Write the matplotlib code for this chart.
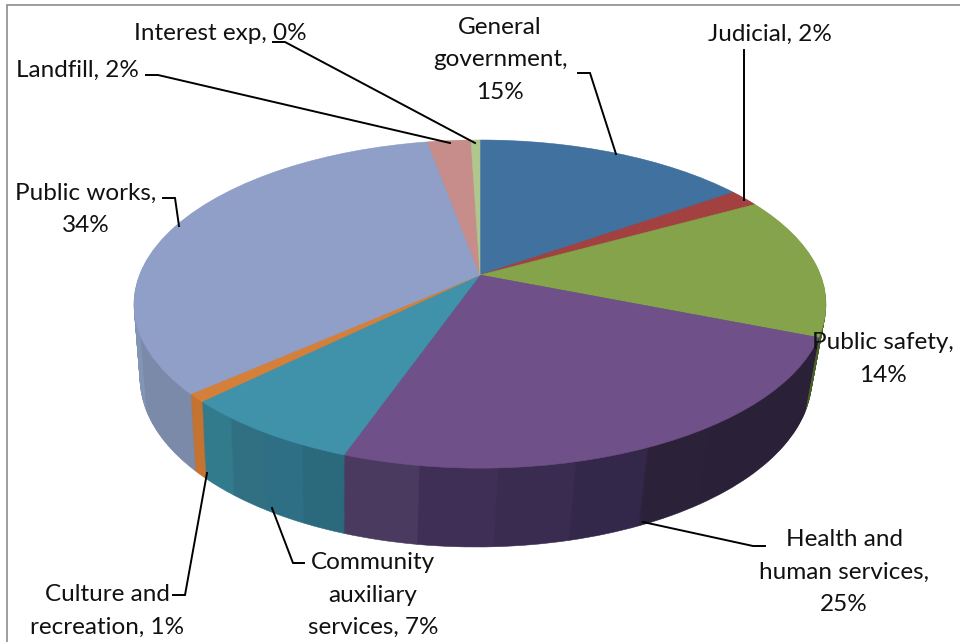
import matplotlib
matplotlib.use("Agg")
import matplotlib.pyplot as plt
import numpy as np
from matplotlib.path import Path
from matplotlib.transforms import Transform

# parts, in drawing order (clockwise from the top)
names = ["General government", "Judicial", "Public safety", "Health and human services",
         "Community auxiliary services", "Culture and recreation", "Public works",
         "Landfill", "Interest exp"]
shares = [15.3, 1.7, 14.0, 24.4, 7.3, 0.8, 33.6, 2.4, 0.5]
top_colors = ["#41719F", "#A34141", "#84A34A", "#6F5088", "#3F92A9",
              "#D5803A", "#8F9FC8", "#C78D8A", "#AFC78E"]
side_bands = [
    ["#2F5478"],
    ["#7A2E2E"],
    ["#3E4F22", "#4A5F2A"],
    ["#2A2138", "#2A2138", "#2A2138", "#2B2239", "#33274A", "#3A2C50", "#3F2E55", "#4B3A5F"],
    ["#2B6A7C", "#2F6F85", "#307082", "#317B8C"],
    ["#C47330"],
    ["#7C8AAA", "#8494B5", "#8B9BC0", "#8B9BC0", "#8B9BC0", "#8B9BC0"],
    ["#946865"],
    ["#82956A"],
]
labels = [
    ("General\ngovernment,\n15%", 500, 60, "center"),
    ("Judicial, 2%", 770, 34, "center"),
    ("Public safety,\n14%", 883, 359, "center"),
    ("Health and\nhuman services,\n25%", 844, 572, "center"),
    ("Community\nauxiliary\nservices, 7%", 373, 595, "center"),
    ("Culture and\nrecreation, 1%", 107, 611, "center"),
    ("Public works,\n34%", 86, 209, "center"),
    ("Landfill, 2%", 77, 70, "center"),
    ("Interest exp, 0%", 220, 34, "center"),
]
leaders = [
    ([578, 590, 616], [73, 73, 154]),
    ([743.5, 743.5], [50, 200]),
    ([643, 753, 765], [522, 546, 546]),
    ([272, 293, 304], [508, 563, 563]),
    ([207, 185, 173], [473, 595, 595]),
    ([163, 175, 179], [198, 198, 226]),
    ([146, 158, 450], [75, 75, 143]),
    ([273, 285, 475], [42, 42, 143]),
]


class TiltedPie(Transform):
    # perspective view of the unit circle, u=0 top face, u=1 bottom face
    input_dims = 2
    output_dims = 2

    def __init__(self, u=0.0):
        super().__init__()
        self.u = u

    def transform_non_affine(self, xy):
        xy = np.asarray(xy, dtype=float)
        w = 1 + 0.177 * xy[:, 1]
        px = 340.5 * xy[:, 0] / w
        py = 275 - 158.9 * xy[:, 1] / w
        # bottom face sits lower and a little narrower
        px = 480 - 4 * self.u + px * (1 - 0.029 * self.u)
        py = 304 + 74 * self.u + (py - 304) * (1 + 0.03 * self.u)
        return np.column_stack([px, py])

    def transform_path_non_affine(self, path):
        return Path(self.transform_non_affine(path.vertices), path.codes)


fig = plt.figure(figsize=(9.6, 6.42), dpi=100)
ax = fig.add_axes([0, 0, 1, 1])

# the wall of the pie, stacked from the bottom face upward
side_shares = []
side_colors = []
for share, bands in zip(shares, side_bands):
    side_shares += [share / len(bands)] * len(bands)
    side_colors += bands
for u in np.linspace(1, 0.01, 76):
    wedges, _ = ax.pie(side_shares, colors=side_colors, startangle=90, counterclock=False,
                       normalize=True)
    for w in wedges:
        w.set_transform(TiltedPie(u) + ax.transData)
        w.set_edgecolor(w.get_facecolor())
        w.set_linewidth(0.4)

wedges, _ = ax.pie(shares, colors=top_colors, startangle=90, counterclock=False, normalize=True)
for w in wedges:
    w.set_transform(TiltedPie(0) + ax.transData)
    w.set_edgecolor(w.get_facecolor())
    w.set_linewidth(0.4)

ax.set_aspect("auto")
ax.set_xlim(0, 960)
ax.set_ylim(642, 0)
ax.axis("off")

# frame of the chart area (only top and left fall inside the picture)
ax.plot([7, 7, 960], [642, 5, 5], color="#8C8C8C", lw=1.2, solid_joinstyle="miter", clip_on=False)

for xs, ys in leaders:
    ax.plot(xs, ys, color="black", lw=1.4, solid_joinstyle="miter")

for text, x, y, ha in labels:
    ax.text(x, y, text, ha=ha, va="center", family="Lato", fontsize=17.5, color="#111111",
            linespacing=1.65, multialignment="center")

fig.savefig("out.png", dpi=100, facecolor="white")
